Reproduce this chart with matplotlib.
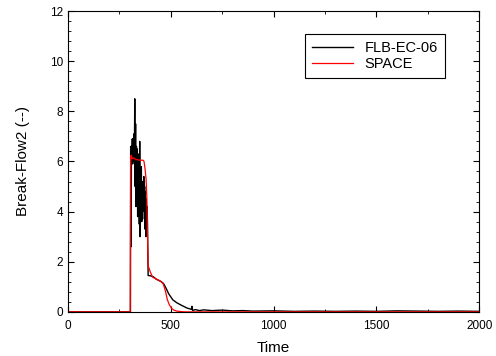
import matplotlib
matplotlib.use("Agg")
import matplotlib.pyplot as plt
from matplotlib.ticker import MultipleLocator

plt.rcParams['font.family'] = ['Liberation Sans', 'DejaVu Sans']

exp_t = [0, 300, 304, 305, 307, 309, 311, 313, 315, 317, 319, 321, 323, 325, 327,
         329, 331, 333, 335, 337, 339, 341, 343, 345, 347, 349, 351, 353, 355,
         357, 359, 361, 363, 365, 367, 369, 371, 373, 375, 377, 379, 381, 383,
         385, 387, 390, 400, 415, 430, 450, 465, 475, 490, 510, 530, 555, 580,
         600, 603, 606, 620, 640, 660, 700, 750, 800, 850, 900, 1000, 1100,
         1200, 1300, 1400, 1500, 1600, 1700, 1800, 1900, 2000]
exp_y = [0, 0, 0, 6.6, 2.6, 6.6, 6.2, 6.9, 5.9, 6.9, 6.5, 7.1, 6.0, 8.5, 5.0,
         7.5, 4.2, 6.6, 4.8, 6.5, 3.8, 5.9, 4.0, 6.3, 3.5, 6.8, 3.0, 5.5, 3.8,
         5.8, 3.6, 5.0, 3.7, 5.2, 4.3, 5.4, 4.0, 5.0, 3.3, 4.8, 3.0, 4.5, 3.2,
         4.2, 3.5, 1.45, 1.44, 1.40, 1.30, 1.22, 1.13, 0.98, 0.72, 0.48, 0.36,
         0.25, 0.15, 0.10, 0.22, 0.06, 0.09, 0.05, 0.08, 0.05, 0.07, 0.04, 0.05,
         0.03, 0.04, 0.02, 0.03, 0.02, 0.03, 0.02, 0.04, 0.03, 0.02, 0.03, 0.02]

# calculation (SPACE)
calc_t = [0, 303, 305, 308, 312, 318, 330, 350, 365, 370, 375, 380, 384, 387,
          390, 400, 412, 425, 440, 455, 463, 468, 475, 483, 492, 503, 515, 530,
          550, 570, 2000]
calc_y = [0, 0, 6.2, 6.25, 6.1, 6.15, 6.08, 6.05, 6.05, 6.0, 5.7, 5.3, 4.5, 3.0,
          1.85, 1.6, 1.38, 1.33, 1.27, 1.2, 1.12, 1.0, 0.8, 0.5, 0.3, 0.15, 0.07,
          0.03, 0.01, 0.0, 0.0]

fig = plt.figure(figsize=(4.96, 3.56), dpi=100)
ax = fig.add_axes([0.137, 0.124, 0.829, 0.845])

ax.plot(exp_t, exp_y, color='black', lw=1.0, label='FLB-EC-06')
ax.plot(calc_t, calc_y, color='red', lw=0.9, label='SPACE')

ax.set_xlim(0, 2000)
ax.set_ylim(0, 12)
ax.xaxis.set_major_locator(MultipleLocator(500))
ax.xaxis.set_minor_locator(MultipleLocator(250))
ax.yaxis.set_major_locator(MultipleLocator(2))
ax.yaxis.set_minor_locator(MultipleLocator(0.4))
ax.tick_params(which='both', direction='in', top=True, right=True, labelsize=8.5)
ax.tick_params(axis='x', pad=6)
ax.tick_params(which='major', length=4)
ax.tick_params(which='minor', length=2)
ax.set_xlabel('Time', fontsize=11, labelpad=6)
ax.set_ylabel('Break-Flow2 (--)', fontsize=11, labelpad=14)

leg = ax.legend(loc='upper right', bbox_to_anchor=(0.917, 0.924), fontsize=10.5,
                fancybox=False, edgecolor='black', framealpha=1,
                borderaxespad=0, handlelength=2.8, borderpad=0.5,
                labelspacing=0.1)
leg.get_frame().set_linewidth(0.8)

fig.savefig('out.png', dpi=100)
